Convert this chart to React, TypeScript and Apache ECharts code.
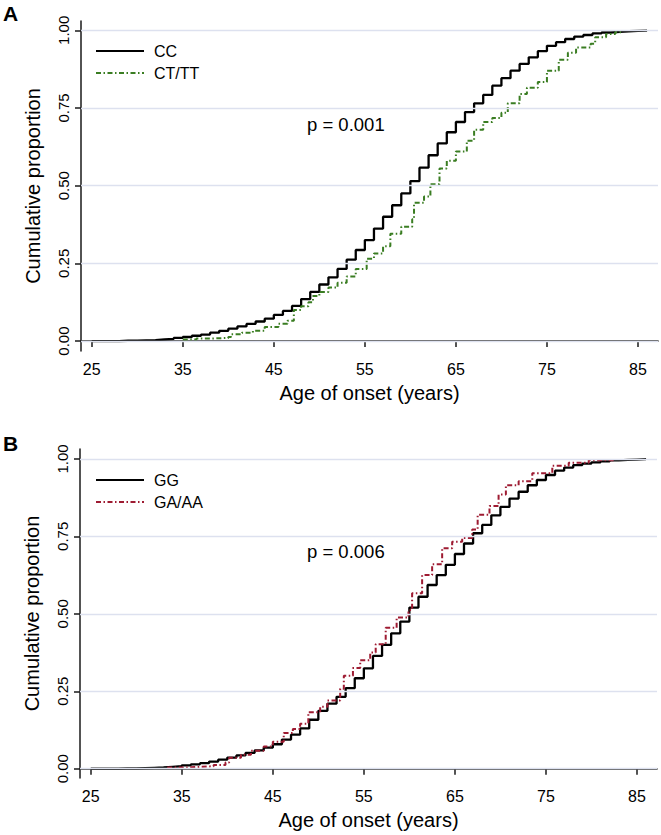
import React, { useEffect, useRef } from "react";
import * as echarts from "echarts";

const xTicks = [25, 35, 45, 55, 65, 75, 85];
const yTicks = [0, 0.25, 0.5, 0.75, 1];

// Panel A
const ccAges = [25, 26, 27, 28, 29, 30, 31, 32, 33, 34, 35, 36, 37, 38, 39, 40, 41, 42, 43, 44, 45, 46, 47, 48, 49, 50, 51, 52, 53, 54, 55, 56, 57, 58, 59, 60, 61, 62, 63, 64, 65, 66, 67, 68, 69, 70, 71, 72, 73, 74, 75, 76, 77, 78, 79, 80, 81, 82, 83, 84, 85, 86];
const ccValues = [0, 0, 0, 0.001, 0.001, 0.002, 0.003, 0.005, 0.007, 0.01, 0.013, 0.017, 0.021, 0.027, 0.033, 0.04, 0.047, 0.055, 0.063, 0.072, 0.084, 0.097, 0.113, 0.135, 0.158, 0.182, 0.205, 0.232, 0.262, 0.293, 0.325, 0.362, 0.4, 0.437, 0.475, 0.515, 0.558, 0.598, 0.636, 0.672, 0.705, 0.737, 0.765, 0.792, 0.822, 0.846, 0.87, 0.892, 0.913, 0.933, 0.95, 0.962, 0.972, 0.98, 0.985, 0.99, 0.993, 0.995, 0.997, 0.998, 0.999, 1];

const ctAges = [35, 36.5, 38, 40, 40.3, 41.5, 42.7, 44, 45.5, 46.5, 47.2, 48, 48.8, 49.3, 50, 51, 52, 53, 54, 55.2, 56, 57, 57.8, 59, 60.2, 60.4, 61.5, 62.2, 63.2, 64, 65, 66.2, 67, 68, 69, 70, 70.7, 72, 72.8, 74, 75, 76.3, 77.3, 78.2, 79.8, 80.3, 81.5, 82.5, 83.3];
const ctValues = [0.005, 0.008, 0.01, 0.013, 0.022, 0.027, 0.033, 0.045, 0.056, 0.065, 0.1, 0.112, 0.125, 0.145, 0.158, 0.172, 0.188, 0.208, 0.232, 0.265, 0.282, 0.305, 0.345, 0.368, 0.392, 0.445, 0.465, 0.505, 0.555, 0.58, 0.61, 0.645, 0.68, 0.705, 0.718, 0.735, 0.765, 0.795, 0.815, 0.834, 0.87, 0.905, 0.928, 0.945, 0.957, 0.978, 0.988, 0.994, 1];

// Panel B
const ggAges = [25, 26, 27, 28, 29, 30, 31, 32, 33, 34, 35, 36, 37, 38, 39, 40, 41, 42, 43, 44, 45, 46, 47, 48, 49, 50, 51, 52, 53, 54, 55, 56, 57, 58, 59, 60, 61, 62, 63, 64, 65, 66, 67, 68, 69, 70, 71, 72, 73, 74, 75, 76, 77, 78, 79, 80, 81, 82, 83, 84, 85, 86];
const ggValues = [0, 0, 0, 0.001, 0.001, 0.002, 0.003, 0.004, 0.006, 0.008, 0.011, 0.014, 0.018, 0.023, 0.029, 0.036, 0.043, 0.051, 0.059, 0.068, 0.079, 0.094, 0.11, 0.13, 0.158, 0.187, 0.21, 0.232, 0.26, 0.292, 0.324, 0.364, 0.4, 0.437, 0.475, 0.52, 0.555, 0.593, 0.625, 0.658, 0.693, 0.727, 0.76, 0.787, 0.818, 0.845, 0.872, 0.894, 0.915, 0.932, 0.948, 0.962, 0.972, 0.98, 0.985, 0.989, 0.992, 0.995, 0.997, 0.998, 0.999, 1];

const gaAges = [33.4, 35.5, 37, 38.5, 39.8, 40.2, 41.5, 42.6, 44, 45, 46.2, 47.2, 48, 48.9, 50.2, 51, 52.4, 52.8, 53.8, 54.6, 55.7, 56.3, 57.4, 58.6, 59.9, 60.3, 61.4, 62.5, 63.6, 64.7, 65.8, 66.9, 67.5, 68.8, 69.8, 70.6, 72, 73.5, 75.7, 77.5, 79.7, 82.5];
const gaValues = [0.004, 0.006, 0.008, 0.012, 0.02, 0.035, 0.045, 0.058, 0.072, 0.087, 0.115, 0.128, 0.145, 0.182, 0.2, 0.22, 0.258, 0.3, 0.325, 0.35, 0.375, 0.402, 0.455, 0.488, 0.512, 0.566, 0.625, 0.66, 0.712, 0.733, 0.745, 0.772, 0.82, 0.848, 0.885, 0.915, 0.928, 0.954, 0.978, 0.988, 0.996, 1];

const zip = (a: number[], b: number[]) => a.map((x, i) => [x, b[i]]);

const FONT = "'Liberation Sans', Arial, Helvetica, sans-serif";
const AXIS_COLOR = "#1a1a1a";
const GRID_COLOR = "#dde1ef";
const GREEN = "#3a7d22";
const RED = "#9e1b32";

export default function App() {
  const ref = useRef<HTMLDivElement>(null);

  useEffect(() => {
    const chart = echarts.init(ref.current!, null, { renderer: "svg" });

    const mkX = (gridIndex: number) => ({
      type: "value",
      gridIndex,
      min: 23.82,
      max: 87.2,
      name: "Age of onset (years)",
      nameLocation: "middle",
      nameGap: 32,
      nameTextStyle: { fontSize: 20, color: "#000", fontFamily: FONT },
      axisLine: { show: true, lineStyle: { color: AXIS_COLOR, width: 1.5 } },
      axisTick: { show: true, length: 6, customValues: xTicks, lineStyle: { color: AXIS_COLOR, width: 1.5 } },
      axisLabel: { customValues: xTicks, fontSize: 16, color: "#000", margin: 10, fontFamily: FONT },
      splitLine: { show: false },
    });

    const mkY = (gridIndex: number, min: number, max: number) => ({
      type: "value",
      gridIndex,
      min,
      max,
      name: "Cumulative proportion",
      nameLocation: "middle",
      nameRotate: 90,
      nameGap: 38,
      nameTextStyle: { fontSize: 20, color: "#000", fontFamily: FONT },
      axisLine: { show: true, lineStyle: { color: AXIS_COLOR, width: 1.5 } },
      axisTick: { show: true, length: 6, customValues: yTicks, lineStyle: { color: AXIS_COLOR, width: 1.5 } },
      axisLabel: {
        customValues: yTicks,
        rotate: 90,
        fontSize: 15,
        color: "#000",
        margin: 10,
        fontFamily: FONT,
        formatter: (v: number) => v.toFixed(2),
      },
      splitLine: { show: false },
    });

    const gridSeries = (idx: number) => ({
      type: "line",
      name: "grid" + idx,
      xAxisIndex: idx,
      yAxisIndex: idx,
      data: [],
      z: 1,
      silent: true,
      markLine: {
        silent: true,
        symbol: ["none", "none"],
        label: { show: false },
        lineStyle: { color: GRID_COLOR, width: 1.3, type: "solid" },
        data: yTicks.map((v) => ({ yAxis: v })),
      },
    });

    const lineSeries = (name: string, idx: number, data: number[][], color: string, width: number, type: any, z: number) => ({
      type: "line",
      name,
      xAxisIndex: idx,
      yAxisIndex: idx,
      step: "end",
      symbol: "none",
      showSymbol: false,
      data,
      z,
      color,
      lineStyle: { color, width, type },
    });

    const dashDot = [5, 2.5, 1.5, 2.5];

    const legendBase = {
      orient: "vertical",
      left: 90,
      itemWidth: 48,
      itemHeight: 16,
      itemGap: 6,
      itemStyle: { opacity: 0 },
      textStyle: { fontSize: 16, lineHeight: 16, color: "#000", fontFamily: FONT, padding: [0, 0, 0, 5] },
      selectedMode: false,
    };

    chart.setOption({
      animation: false,
      backgroundColor: "#fff",
      textStyle: { fontFamily: FONT },
      grid: [
        { left: 81, right: 3, top: 21, height: 330 },
        { left: 80, right: 4, top: 449, height: 329 },
      ],
      xAxis: [mkX(0), mkX(1)],
      yAxis: [mkY(0, -0.032, 1.03), mkY(1, -0.03, 1.032)],
      legend: [
        { ...legendBase, data: ["CC", "CT/TT"], top: 38 },
        { ...legendBase, data: ["GG", "GA/AA"], top: 467 },
      ],
      graphic: [
        { type: "text", left: 3, top: 3, style: { text: "A", fontSize: 21, fontWeight: "bold", fill: "#000", fontFamily: FONT } },
        { type: "text", left: 3, top: 433, style: { text: "B", fontSize: 21, fontWeight: "bold", fill: "#000", fontFamily: FONT } },
        { type: "text", left: 307, top: 115, style: { text: "p = 0.001", fontSize: 18.5, fill: "#000", fontFamily: FONT } },
        { type: "text", left: 307, top: 542, style: { text: "p = 0.006", fontSize: 18.5, fill: "#000", fontFamily: FONT } },
      ],
      series: [
        gridSeries(0),
        gridSeries(1),
        lineSeries("CC", 0, zip(ccAges, ccValues), "#000", 2.3, "solid", 3),
        lineSeries("CT/TT", 0, zip(ctAges, ctValues), GREEN, 2, dashDot, 4),
        lineSeries("GG", 1, zip(ggAges, ggValues), "#000", 2.3, "solid", 3),
        lineSeries("GA/AA", 1, zip(gaAges, gaValues), RED, 2, dashDot, 4),
      ],
    });

    return () => chart.dispose();
  }, []);

  return (
    <div
      ref={ref}
      style={{ position: "fixed", left: 0, top: 0, width: 661, height: 835, background: "#fff" }}
    />
  );
}
